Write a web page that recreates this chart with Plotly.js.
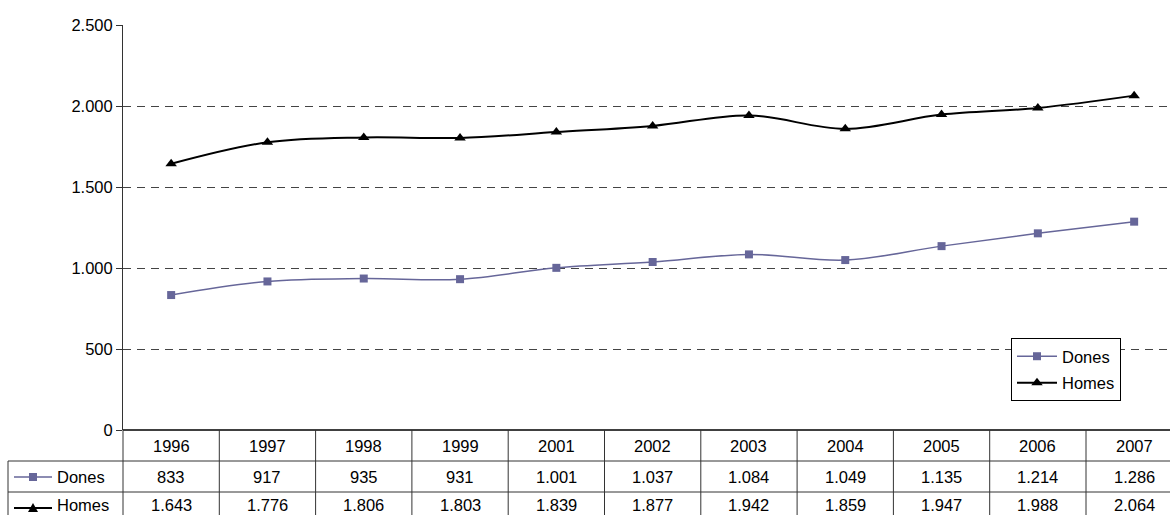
<!DOCTYPE html>
<html>
<head>
<meta charset="utf-8">
<script src="https://cdn.plot.ly/plotly-3.0.1.min.js"></script>
<style>
  html, body { margin: 0; padding: 0; background: #fff; }
  #chart { width: 1170px; height: 515px; }
</style>
</head>
<body>
<div id="chart"></div>
<script>
const YEARS = ['1996', '1997', '1998', '1999', '2001', '2002', '2003', '2004', '2005', '2006', '2007'];
const DONES = [833, 917, 935, 931, 1001, 1037, 1084, 1049, 1135, 1214, 1286];
const HOMES = [1643, 1776, 1806, 1803, 1839, 1877, 1942, 1859, 1947, 1988, 2064];
const Y_TICKS = [0, 500, 1000, 1500, 2000, 2500];

const W = 1170, H = 515;
const M = { l: 123, r: 0, t: 25, b: 85 };
const PW = W - M.l - M.r, PH = H - M.t - M.b;
const COL = 96.3; // px per category column
const FONT = 'Liberation Sans, Arial, sans-serif';
const FS = 16.5;

// pixel -> paper helpers (layout only)
const px = (x) => (x - M.l) / PW;
const py = (y) => (H - M.b - y) / PH;

const fmt = (v) => String(v).replace(/\B(?=(\d{3})+(?!\d))/g, '.');

// row: key line position, text: label baseline-centre (last row sits at the crop edge)
const SERIES = [
  { name: 'Dones', y: DONES, color: '#666699', symbol: 'square', size: 8, width: 1.5, row: 477, text: 477 },
  { name: 'Homes', y: HOMES, color: '#000000', symbol: 'triangle-up', size: 10, width: 2, row: 508, text: 504.5 },
];

const traces = SERIES.map((s) => ({
  x: YEARS, y: s.y, name: s.name, type: 'scatter', mode: 'lines+markers',
  line: { color: s.color, width: s.width, shape: 'spline', smoothing: 1 },
  marker: { color: s.color, symbol: s.symbol, size: s.size },
  legendgroup: s.name,
  hoverinfo: 'skip',
}));

const LINE = { color: '#333', width: 1 };
const shapes = [];
// axis baseline (top of table)
shapes.push({ type: 'line', xref: 'paper', yref: 'paper', x0: 0, x1: 1, y0: 0, y1: 0, line: { color: '#404040', width: 2 } });
// first column edge continues the y axis
shapes.push({ type: 'line', xref: 'paper', yref: 'paper', x0: 0, x1: 0, y0: 0, y1: py(530), line: LINE });
// column separators
for (let i = 1; i <= YEARS.length; i++) {
  shapes.push({ type: 'line', xref: 'x', yref: 'paper', x0: i - 0.5, x1: i - 0.5, y0: 0, y1: py(530), line: LINE });
}
// row separators and left border of the series column
[461, 492].forEach((y) => {
  shapes.push({ type: 'line', xref: 'paper', yref: 'paper', x0: px(8), x1: 1, y0: py(y), y1: py(y), line: LINE });
});
shapes.push({ type: 'line', xref: 'paper', yref: 'paper', x0: px(8), x1: px(8), y0: py(461), y1: py(530), line: LINE });

// legend keys inside the table
SERIES.forEach((s) => {
  shapes.push({ type: 'line', xref: 'paper', yref: 'paper', x0: px(14), x1: px(52), y0: py(s.row), y1: py(s.row), line: { color: s.color, width: s.width } });
  if (s.symbol === 'square') {
    shapes.push({ type: 'rect', xref: 'paper', yref: 'paper', xsizemode: 'pixel', ysizemode: 'pixel',
      xanchor: px(33), yanchor: py(s.row), x0: -4, x1: 4, y0: -4, y1: 4,
      fillcolor: s.color, line: { width: 0 } });
  } else {
    shapes.push({ type: 'path', xref: 'paper', yref: 'paper', xsizemode: 'pixel', ysizemode: 'pixel',
      xanchor: px(33), yanchor: py(s.row), path: 'M-5,-4L5,-4L0,5Z',
      fillcolor: s.color, line: { width: 0 } });
  }
});

const cell = (x, y, text, xref, xanchor) => ({
  xref, yref: 'paper', x, y, text, showarrow: false,
  xanchor: xanchor || 'center', yanchor: 'middle',
  font: { size: FS, color: '#000' },
});

const annotations = [];
YEARS.forEach((yr, i) => {
  annotations.push(cell(i, py(446), yr, 'x'));
  SERIES.forEach((s) => annotations.push(cell(i, py(s.text), fmt(s.y[i]), 'x')));
});
SERIES.forEach((s) => annotations.push(cell(px(55), py(s.text), s.name, 'paper', 'left')));

const layout = {
  width: W, height: H, margin: M,
  paper_bgcolor: '#fff', plot_bgcolor: '#fff',
  font: { family: FONT, size: FS, color: '#000' },
  separators: ',.',
  showlegend: true,
  legend: {
    x: px(1011), y: py(338), xanchor: 'left', yanchor: 'top',
    bordercolor: '#000', borderwidth: 1, bgcolor: '#fff',
    font: { size: FS }, tracegroupgap: 2, itemwidth: 40,
  },
  xaxis: {
    type: 'category', range: [-0.5, -0.5 + PW / COL],
    showticklabels: false, ticks: '', showgrid: false, zeroline: false, showline: false, fixedrange: true,
  },
  yaxis: {
    range: [0, 2500], tickvals: Y_TICKS, tickformat: ',d',
    ticks: 'outside', ticklen: 6, tickcolor: '#333',
    showline: true, linecolor: '#333', linewidth: 1,
    showgrid: true, gridcolor: '#444', gridwidth: 1, griddash: '8px,6px',
    zeroline: false, fixedrange: true,
    tickfont: { size: FS },
  },
  shapes, annotations,
};

Plotly.newPlot('chart', traces, layout, { displayModeBar: false, staticPlot: true });
</script>
</body>
</html>
